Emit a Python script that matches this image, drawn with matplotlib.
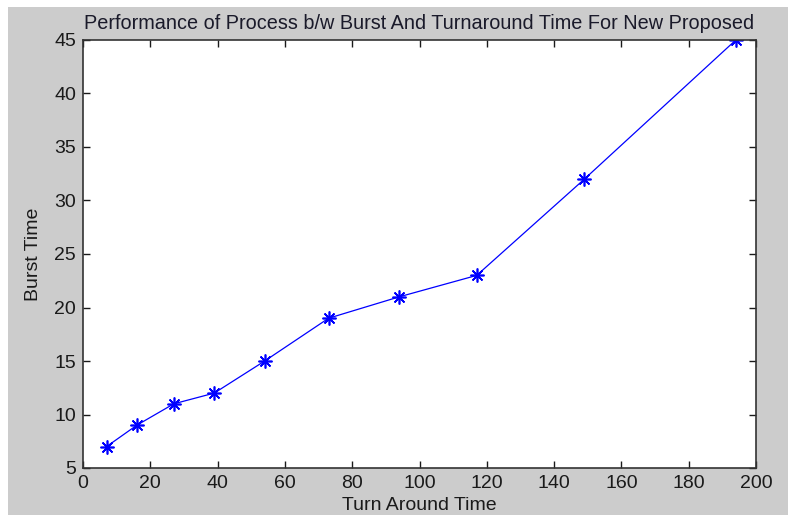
import matplotlib
matplotlib.use("Agg")
import matplotlib.pyplot as plt
from matplotlib.patches import Rectangle

# Turn around time vs burst time for the new proposed scheme
turnaround = [7, 16, 27, 39, 54, 73, 94, 117, 149, 194]
burst = [7, 9, 11, 12, 15, 19, 21, 23, 32, 45]

x_ticks = list(range(0, 201, 20))
y_ticks = list(range(5, 46, 5))

plt.rcParams["font.family"] = ["Liberation Sans", "DejaVu Sans"]

W, H = 788, 515
fig = plt.figure(figsize=(W / 100, H / 100), dpi=100, facecolor="#cccccc")

# thin white strip on the left and on top, as in the screenshot
fig.patches.append(Rectangle((0, 0), 8 / W, 1, transform=fig.transFigure,
                             facecolor="white", edgecolor="none", zorder=-10))
fig.patches.append(Rectangle((0, 1 - 7 / H), 1, 7 / H, transform=fig.transFigure,
                             facecolor="white", edgecolor="none", zorder=-10))

ax = fig.add_axes([83 / W, 47 / H, (756 - 83) / W, (468 - 40) / H])
ax.set_facecolor("white")

# MATLAB style '*' marker: an asterisk of lines
ax.plot(turnaround, burst, color="#0000ff", linewidth=0.9,
        marker=(8, 2, 0), markersize=10, markeredgewidth=1.2)

ax.set_xlim(0, 200)
ax.set_ylim(5, 45)
ax.set_xticks(x_ticks)
ax.set_yticks(y_ticks)
ax.tick_params(direction="in", length=5, width=1, top=True, right=True,
               labelsize=14, colors="#1a1a1a", pad=5)
for s in ax.spines.values():
    s.set_color("#333333")
    s.set_linewidth(1.2)

ax.set_title("Performance of Process b/w Burst And Turnaround Time For New Proposed",
             fontsize=14.3, color="#1a1a2a", pad=8)
ax.set_xlabel("Turn Around Time", fontsize=14, color="#1a1a1a", labelpad=4)
ax.set_ylabel("Burst Time", fontsize=14, color="#1a1a1a", labelpad=9)

fig.savefig("out.png", dpi=100, facecolor=fig.get_facecolor())
